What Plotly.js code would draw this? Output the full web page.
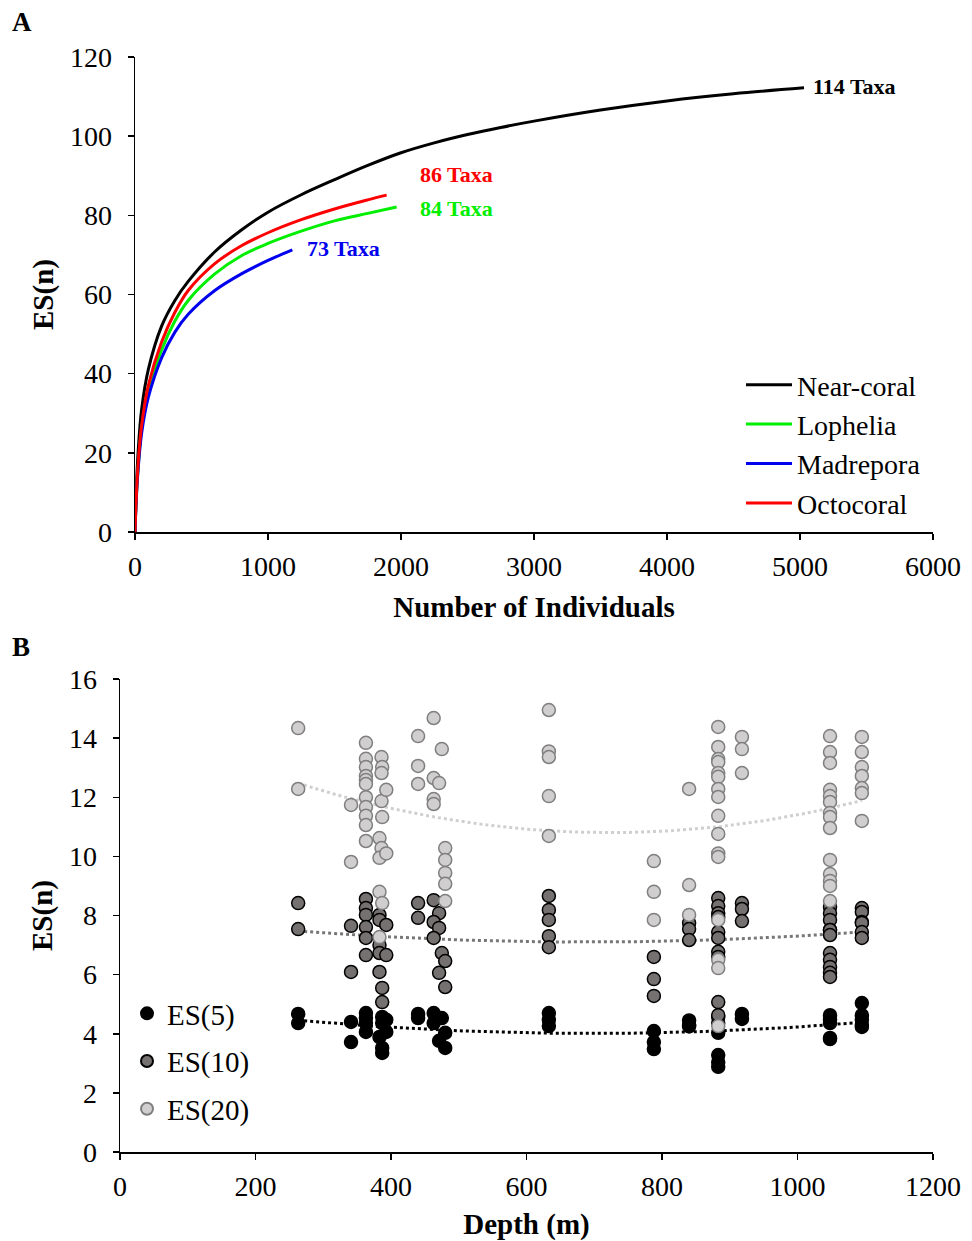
<!DOCTYPE html>
<html>
<head>
<meta charset="utf-8">
<script src="https://cdn.plot.ly/plotly-3.0.1.min.js"></script>
<style>html,body{margin:0;padding:0;background:#fff;}#chart{width:972px;height:1241px;}</style>
</head>
<body>
<div id="chart"></div>
<script>
// ---------- Panel A: rarefaction curves ----------
const nearN  = [0, 10, 25, 50, 100, 200, 300, 400, 600, 800, 1000, 1250, 1500, 1750, 2000, 2250, 2500, 2750, 3000, 3500, 4000, 4500, 5030];
const nearES = [0, 11, 21, 31, 41, 52, 58.5, 63.3, 70.8, 76.3, 80.8, 85.2, 89, 92.6, 95.8, 98.3, 100.4, 102.2, 103.8, 106.6, 108.9, 110.7, 112.2];
const lophN  = [0, 10, 25, 50, 100, 200, 300, 400, 600, 800, 1000, 1250, 1500, 1750, 1967];
const lophES = [0, 9, 17, 26, 35.5, 46, 53.3, 58.5, 65.2, 69.8, 72.9, 76.0, 78.6, 80.5, 82.1];
const madrN  = [0, 10, 25, 50, 100, 200, 300, 400, 600, 800, 1000, 1183];
const madrES = [0, 8.5, 16.5, 25, 34, 44, 50.5, 55, 61, 65.2, 68.6, 71.3];
const octoN  = [0, 10, 25, 50, 100, 200, 300, 400, 600, 800, 1000, 1250, 1500, 1750, 1892];
const octoES = [0, 9, 18, 27, 37, 48, 55.5, 61, 67.8, 72.3, 75.6, 78.9, 81.6, 83.9, 85.1];
const curveNames = ["Near-coral", "Lophelia", "Madrepora", "Octocoral"];
const taxaLabels = ["114 Taxa", "84 Taxa", "73 Taxa", "86 Taxa"];

// ---------- Panel B: ES(n) vs depth ----------
const es20Depth = [263,263, 341,341,
  363,363,363,363,363,363,363,363,363,363,363,
  386,387,386,386,387,383,386,383,383,387,383,393,393,
  440,440,440, 463,463,463,463, 471,475, 480,480,480,480,480,
  633,633,633,633,633, 788,788,788, 840,840,840,
  883,883,883,883,883,883,883,883,883,883,883,883,883,883,883,883,
  918,918,918,
  1048,1048,1048,1048,1048,1048,1048,1048,1048,1048,1048,1048,1048,1048,
  1095,1095,1095,1095,1095,1095,1095];
const es20 = [14.34,12.28, 11.74,9.81,
  13.84,13.3,13.02,12.72,12.58,12.45,12.0,11.67,11.37,11.06,10.52,
  13.36,13.02,12.82,11.87,11.33,10.62,10.28,9.95,8.8,8.42,7.27,12.25,10.1,
  14.07,13.06,12.45, 14.68,12.65,11.94,11.77, 12.48,13.63, 10.28,9.88,9.44,9.07,8.49,
  14.95,13.55,13.36,12.04,10.69, 9.84,8.8,7.85, 12.28,9.03,8.02,
  14.38,13.7,13.29,13.19,12.82,12.69,12.28,12.01,11.37,10.76,10.1,9.98,7.85,6.5,6.22,4.26,
  14.04,13.63,12.82,
  14.07,13.53,13.16,12.25,12.04,11.84,11.47,11.33,10.96,9.88,9.4,9.17,9.0,8.49,
  14.04,13.53,13.02,12.72,12.31,12.14,11.2];

const es10Depth = [263,263, 341,341,
  363,363,363,363,363,363,
  383,383,383,383,383,387,387,393,393,
  440,440, 463,471,463,471,463,475,480,471,480,
  633,633,633,633,633, 788,788,788, 840,840,840,
  883,883,883,883,883,883,883,883,883,883,
  918,918,918,
  1048,1048,1048,1048,1048,1048,1048,1048,1048,1048,1048,
  1095,1095,1095,1095,1095,1095];
const es10 = [8.42,7.54, 7.65,6.09,
  8.56,8.25,8.02,7.61,7.24,6.66,
  8.02,7.85,7.0,6.73,6.09,5.55,5.07,7.68,6.66,
  8.42,7.92, 8.52,8.08,7.78,7.58,7.24,6.73,6.46,6.06,5.58,
  8.66,8.19,7.85,7.3,6.93, 6.6,5.85,5.28, 7.75,7.54,7.17,
  8.59,8.32,8.08,7.95,7.44,7.24,6.77,6.6,5.07,4.63,
  8.42,8.22,7.81,
  8.29,8.08,7.85,7.51,7.51,7.34,6.73,6.5,6.26,6.06,5.92,
  8.25,8.12,7.78,7.75,7.44,7.24];

const es5Depth = [263,263, 341,341, 363,363,363,363,
  387,387,393,393,383,387,387, 440,440,
  463,475,463,480,471,480, 633,633,633, 788,788,788, 840,840,840,
  883,883,883,883,883,883, 918,918,
  1048,1048,1048,1048,1048, 1095,1095,1095,1095,1095];
const es5 = [4.67,4.36, 4.4,3.72, 4.7,4.53,4.36,4.06,
  4.57,4.36,4.47,4.06,3.89,3.52,3.35, 4.67,4.53,
  4.7,4.53,4.36,4.03,3.76,3.52, 4.7,4.47,4.26, 4.09,3.72,3.48, 4.45,4.3,4.25,
  4.57,4.36,4.03,3.28,3.04,2.88, 4.67,4.5,
  4.63,4.47,4.36,3.86,3.82, 5.04,4.63,4.47,4.3,4.23];
const esNames = ["ES(5)", "ES(10)", "ES(20)"];

// quadratic least-squares trendline (as the spreadsheet's polynomial trendline)
function polyFit2(xs, ys) {
  let S = [0,0,0,0,0], T = [0,0,0];
  for (let i = 0; i < xs.length; i++) {
    let x = xs[i], y = ys[i], p = 1;
    for (let k = 0; k < 5; k++) { S[k] += p; if (k < 3) T[k] += p * y; p *= x; }
  }
  const A = [[S[0],S[1],S[2],T[0]],[S[1],S[2],S[3],T[1]],[S[2],S[3],S[4],T[2]]];
  for (let c = 0; c < 3; c++) {
    for (let r = c + 1; r < 3; r++) {
      const f = A[r][c] / A[c][c];
      for (let k = c; k < 4; k++) A[r][k] -= f * A[c][k];
    }
  }
  const b = [0,0,0];
  for (let r = 2; r >= 0; r--) {
    let s = A[r][3];
    for (let k = r + 1; k < 3; k++) s -= A[r][k] * b[k];
    b[r] = s / A[r][r];
  }
  return b;
}
function trend(xs, ys) {
  const b = polyFit2(xs, ys);
  const lo = Math.min(...xs), hi = Math.max(...xs);
  const tx = [], ty = [];
  for (let i = 0; i <= 60; i++) {
    const x = lo + (hi - lo) * i / 60;
    tx.push(x); ty.push(b[0] + b[1] * x + b[2] * x * x);
  }
  return [tx, ty];
}

const FONT = "Liberation Serif, Times New Roman, serif";
const traces = [];
const curveData = [[nearN, nearES, "#000000"], [lophN, lophES, "#00ee00"], [madrN, madrES, "#0000ee"], [octoN, octoES, "#ff0000"]];
curveData.forEach((c, i) => {
  traces.push({x: c[0], y: c[1], type: "scatter", mode: "lines", name: curveNames[i],
    line: {color: c[2], width: 3, shape: "spline", smoothing: 1},
    xaxis: "x", yaxis: "y", legend: "legend", legendgroup: "a" + i});
});

const t5 = trend(es5Depth, es5), t10 = trend(es10Depth, es10), t20 = trend(es20Depth, es20);
traces.push({x: t20[0], y: t20[1], mode: "lines", line: {color: "#cfcfcf", width: 3, dash: "dot"}, showlegend: false, xaxis: "x2", yaxis: "y2", hoverinfo: "skip"});
traces.push({x: t10[0], y: t10[1], mode: "lines", line: {color: "#777777", width: 3, dash: "dot"}, showlegend: false, xaxis: "x2", yaxis: "y2", hoverinfo: "skip"});
traces.push({x: t5[0], y: t5[1], mode: "lines", line: {color: "#000000", width: 3, dash: "dot"}, showlegend: false, xaxis: "x2", yaxis: "y2", hoverinfo: "skip"});

traces.push({x: es5Depth, y: es5, mode: "markers", name: esNames[0], xaxis: "x2", yaxis: "y2", legend: "legend2", legendgroup: "b0",
  marker: {size: 13, color: "#000000", line: {color: "#000000", width: 1.5}}});
traces.push({x: es10Depth, y: es10, mode: "markers", name: esNames[1], xaxis: "x2", yaxis: "y2", legend: "legend2", legendgroup: "b1",
  marker: {size: 13, color: "#767171", line: {color: "#000000", width: 1.5}}});
traces.push({x: es20Depth, y: es20, mode: "markers", name: esNames[2], xaxis: "x2", yaxis: "y2", legend: "legend2", legendgroup: "b2",
  marker: {size: 13, color: "#d0cece", line: {color: "#7f7f7f", width: 1.5}}});

const W = 972, H = 1241;
const axisCommon = {showgrid: false, zeroline: false, showline: true, linecolor: "#000", linewidth: 1.5,
  ticks: "outside", ticklen: 6, tickwidth: 1.5, tickcolor: "#000",
  tickfont: {family: FONT, size: 28, color: "#000"}, automargin: false};
const titleFont = {family: FONT, size: 29, color: "#000", weight: "bold"};

const layout = {
  width: W, height: H,
  margin: {l: 0, r: 0, t: 0, b: 0},
  paper_bgcolor: "#fff", plot_bgcolor: "#fff",
  showlegend: true,
  xaxis: Object.assign({}, axisCommon, {domain: [135/W, 933/W], range: [0, 6000], dtick: 1000, anchor: "y",
    ticklabelstandoff: 3,
    title: {text: "<b>Number of Individuals</b>", font: titleFont, standoff: 15}}),
  yaxis: Object.assign({}, axisCommon, {domain: [1 - 532/H, 1 - 57/H], range: [0, 120], dtick: 20, anchor: "x",
    ticklabelstandoff: 10,
    title: {text: "<b>ES(n)</b>", font: titleFont, standoff: 8}}),
  xaxis2: Object.assign({}, axisCommon, {domain: [120/W, 933/W], range: [0, 1200], dtick: 200, anchor: "y2",
    ticklabelstandoff: 3,
    title: {text: "<b>Depth (m)</b>", font: titleFont, standoff: 16}}),
  yaxis2: Object.assign({}, axisCommon, {domain: [1 - 1152/H, 1 - 679/H], range: [0, 16], dtick: 2, anchor: "x2",
    ticklabelstandoff: 10,
    title: {text: "<b>ES(n)</b>", font: titleFont, standoff: 8}}),
  legend: {x: 741/W, y: 1 - 360/H, xanchor: "left", yanchor: "top", bgcolor: "rgba(0,0,0,0)",
    font: {family: FONT, size: 28, color: "#000"}, tracegroupgap: 0, itemwidth: 46},
  legend2: {x: 127/W, y: 1 - 988/H, xanchor: "left", yanchor: "top", bgcolor: "rgba(0,0,0,0)",
    font: {family: FONT, size: 29, color: "#000"}, tracegroupgap: 7, itemsizing: "constant", itemwidth: 30},
  annotations: [
    {text: "<b>A</b>", xref: "paper", yref: "paper", x: 10/W, y: 1 - 5/H, xanchor: "left", yanchor: "top", showarrow: false, font: {family: FONT, size: 27, color: "#000"}},
    {text: "<b>B</b>", xref: "paper", yref: "paper", x: 10/W, y: 1 - 630/H, xanchor: "left", yanchor: "top", showarrow: false, font: {family: FONT, size: 27, color: "#000"}},
    {text: "<b>" + taxaLabels[0] + "</b>", xref: "x", yref: "y", x: 5080, y: 112.6, xanchor: "left", yanchor: "middle", showarrow: false, font: {family: FONT, size: 22, color: "#000"}},
    {text: "<b>" + taxaLabels[3] + "</b>", xref: "x", yref: "y", x: 2130, y: 90.4, xanchor: "left", yanchor: "middle", showarrow: false, font: {family: FONT, size: 22, color: "#ff0000"}},
    {text: "<b>" + taxaLabels[1] + "</b>", xref: "x", yref: "y", x: 2130, y: 81.8, xanchor: "left", yanchor: "middle", showarrow: false, font: {family: FONT, size: 22, color: "#00ee00"}},
    {text: "<b>" + taxaLabels[2] + "</b>", xref: "x", yref: "y", x: 1280, y: 71.6, xanchor: "left", yanchor: "middle", showarrow: false, font: {family: FONT, size: 22, color: "#0000ee"}}
  ]
};

Plotly.newPlot("chart", traces, layout, {staticPlot: true, displayModeBar: false});
</script>
</body>
</html>
